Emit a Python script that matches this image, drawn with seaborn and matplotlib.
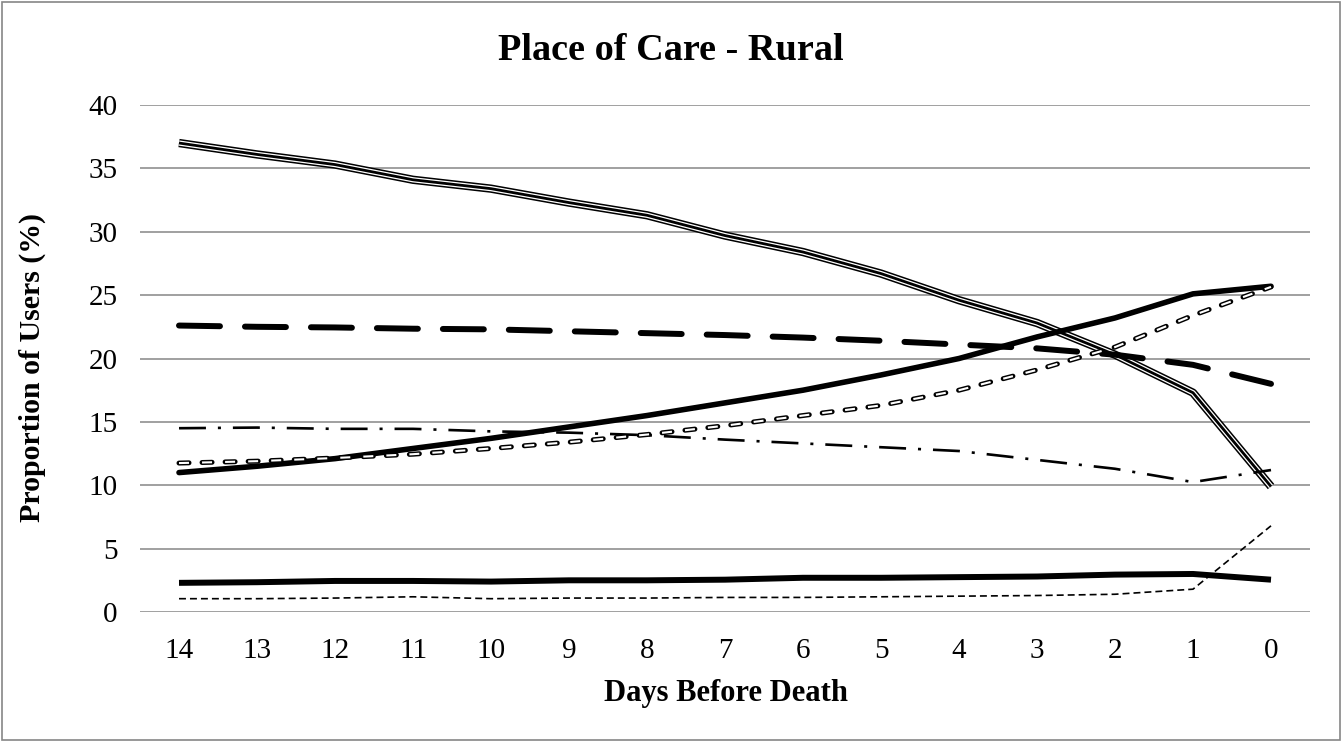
import matplotlib
matplotlib.use("Agg")
import matplotlib.pyplot as plt
import seaborn as sns
from matplotlib.patches import Rectangle

# ---- data ----
days = [14, 13, 12, 11, 10, 9, 8, 7, 6, 5, 4, 3, 2, 1, 0]
day_labels = [str(d) for d in days]
y_ticks = [0, 5, 10, 15, 20, 25, 30, 35, 40]

series_double = [37.0, 36.1, 35.3, 34.1, 33.4, 32.3, 31.3, 29.7, 28.4, 26.7, 24.6, 22.8, 20.3, 17.3, 9.9]
series_thick_rising = [11.0, 11.5, 12.1, 12.9, 13.7, 14.6, 15.5, 16.5, 17.5, 18.7, 20.0, 21.7, 23.2, 25.1, 25.7]
series_long_dash = [22.6, 22.5, 22.45, 22.35, 22.3, 22.15, 22.0, 21.85, 21.65, 21.4, 21.1, 20.8, 20.3, 19.5, 18.0]
series_outlined_dash = [11.75, 11.9, 12.15, 12.45, 12.9, 13.4, 14.0, 14.7, 15.5, 16.3, 17.5, 19.1, 20.9, 23.4, 25.65]
series_dash_dot = [14.5, 14.55, 14.45, 14.45, 14.25, 14.15, 13.95, 13.6, 13.3, 13.0, 12.7, 12.0, 11.3, 10.25, 11.2]
series_thick_low = [2.3, 2.35, 2.45, 2.45, 2.4, 2.5, 2.5, 2.55, 2.7, 2.7, 2.75, 2.8, 2.95, 3.0, 2.55]
series_thin_dash = [1.05, 1.05, 1.1, 1.2, 1.05, 1.1, 1.1, 1.15, 1.15, 1.2, 1.25, 1.3, 1.4, 1.8, 6.8]

sns.set_style("white")
plt.rcParams['font.family'] = ['Liberation Serif', 'DejaVu Serif']
plt.rcParams['lines.scale_dashes'] = False
plt.rcParams['text.color'] = 'black'
plt.rcParams['axes.labelcolor'] = 'black'
plt.rcParams['xtick.color'] = 'black'
plt.rcParams['ytick.color'] = 'black'

fig = plt.figure(figsize=(13.42, 7.42), dpi=100)
ax = fig.add_axes([140 / 1342, 1 - 612 / 742, 1170 / 1342, 507 / 742])


def draw(values, lw, color="black", ls="-", cap="butt", z=3):
    sns.lineplot(x=days, y=values, ax=ax, color=color, linewidth=lw,
                 zorder=z, legend=False, errorbar=None, sort=False)
    ln = ax.lines[-1]
    ln.set_linestyle(ls)
    ln.set_dash_capstyle(cap)
    ln.set_solid_capstyle(cap)
    ln.set_solid_joinstyle("round")
    return ln


# triple (compound) line
draw(series_double, 6.0, z=3)
draw(series_double, 3.8, color="white", z=3.1)
draw(series_double, 2.0, z=3.2)

# thick rising solid
draw(series_thick_rising, 4.0, cap="round", z=4)

# thick long dashes
draw(series_long_dash, 4.3, ls=(0, (29.5, 18)), cap="round", z=4)

# outlined dashed line
draw(series_outlined_dash, 3.6, ls=(0, (7.2, 9.4)), cap="round", z=4.5)
draw(series_outlined_dash, 1.5, color="white", ls=(0, (7.2, 9.4)), cap="butt", z=4.6)

# dash-dot
draw(series_dash_dot, 1.9, ls=(0, (19.4, 8.6, 2.2, 8.6)), cap="butt", z=4)

# thick low solid
draw(series_thick_low, 4.3, cap="butt", z=4)

# thin short dashes
draw(series_thin_dash, 1.2, ls=(0, (5, 2.9)), cap="butt", z=4)

ax.set_xlim(14.5, -0.5)
ax.set_ylim(0, 40)
ax.set_xticks(days)
ax.set_xticklabels(day_labels)
ax.set_yticks(y_ticks)
ax.set_yticklabels([str(v) for v in y_ticks])
ax.yaxis.grid(True, color="#868686", linewidth=1.1, zorder=0)
ax.xaxis.grid(False)
ax.set_axisbelow(True)
for s in ax.spines.values():
    s.set_visible(False)
ax.tick_params(axis="both", length=0, labelsize=21, colors="black")
ax.tick_params(axis="y", pad=16)
ax.tick_params(axis="x", pad=19)
ax.set_xlabel("")
ax.set_ylabel("")

fig.text(671 / 1342, 1 - 51 / 742, "Place of Care - Rural", ha="center", va="center",
         fontsize=27.5, fontweight="bold", color="black")
fig.text(726 / 1342, 1 - 694 / 742, "Days Before Death", ha="center", va="center",
         fontsize=22, fontweight="bold", color="black")
fig.text(32 / 1342, 1 - 367 / 742, "Proportion of Users (%)", ha="center", va="center",
         rotation=90, fontsize=21.5, fontweight="bold", color="black")

fig.patches.append(Rectangle((2 / 1342, 2 / 742), 1 - 4 / 1342, 1 - 4 / 742,
                             transform=fig.transFigure, fill=False,
                             edgecolor="#868686", linewidth=1.2))

fig.savefig("out.png", dpi=100)
